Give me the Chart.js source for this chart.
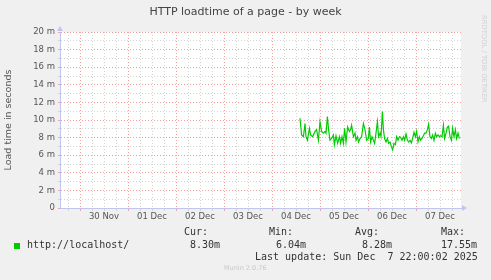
<!DOCTYPE html>
<html>
<head>
<meta charset="utf-8">
<script src="https://cdn.jsdelivr.net/npm/chart.js@4/dist/chart.umd.min.js"></script>
<style>
  html, body { margin: 0; padding: 0; background: #f0f0f0; }
  #wrap { position: relative; width: 491px; height: 280px; overflow: hidden; }
  #chartLoadtime { position: absolute; left: 0; top: 0; }
  .title { position: absolute; left: 0; top: 5px; width: 491px; text-align: center; font-family: "DejaVu Sans", sans-serif; font-size: 11px; line-height: 14px; color: #444; }
  .mono { position: absolute; white-space: pre; font-family: "DejaVu Sans Mono", monospace; font-size: 10px; line-height: 12px; color: #333; }
  .swatch { position: absolute; left: 14px; top: 243px; width: 6px; height: 6px; background: #00cc00; }
  .munin { position: absolute; left: 224px; top: 263px; font-family: "DejaVu Sans", sans-serif; font-size: 6.5px; line-height: 10px; color: #c8c8c8; }
  .rrd { position: absolute; left: 480px; top: 15px; writing-mode: vertical-rl; font-family: "DejaVu Sans", sans-serif; font-size: 6.8px; line-height: 8px; color: #d0d0d0; white-space: pre; }
</style>
</head>
<body>
<div id="wrap">
  <canvas id="chartLoadtime" width="491" height="280"></canvas>
  <div class="title">HTTP loadtime of a page - by week</div>
  <div class="rrd">RRDTOOL / TOBI OETIKER</div>
  <div class="mono" style="left:184px;top:226px">Cur:</div>
  <div class="mono" style="left:269px;top:226px">Min:</div>
  <div class="mono" style="left:355px;top:226px">Avg:</div>
  <div class="mono" style="left:441px;top:226px">Max:</div>
  <div class="swatch"></div>
  <div class="mono" style="left:27px;top:239px">http://localhost/</div>
  <div class="mono" style="left:190px;top:239px">8.30m</div>
  <div class="mono" style="left:276px;top:239px">6.04m</div>
  <div class="mono" style="left:362px;top:239px">8.28m</div>
  <div class="mono" style="left:441px;top:239px">17.55m</div>
  <div class="mono" style="left:255px;top:251px">Last update: Sun Dec  7 22:00:02 2025</div>
  <div class="munin">Munin 2.0.76</div>
</div>
<script>
// x values are hours counted from 30 Nov 00:00, y values are load time in m(illi)seconds
const hours = [
  110.0, 110.8, 111.7, 112.5, 113.0, 113.7, 114.7, 115.3, 116.3, 117.5,
  118.3, 119.2, 120.0, 120.8, 121.7, 122.5, 123.0, 123.7, 124.3, 125.0,
  125.8, 126.7, 127.2, 128.0, 128.8, 129.7, 130.3, 131.0, 131.7, 132.3,
  133.0, 133.8, 134.7, 135.3, 135.8, 136.7, 137.5, 138.0, 138.7, 139.3,
  140.0, 140.8, 141.7, 142.5, 143.3, 144.2, 144.7, 145.3, 146.0, 146.7,
  147.3, 148.0, 148.7, 149.3, 150.0, 150.5, 151.2, 151.7, 152.3, 153.0,
  153.7, 154.3, 155.0, 155.7, 156.3, 157.0, 157.7, 158.3, 159.0, 159.7,
  160.3, 161.0, 161.7, 162.3, 163.0, 163.7, 164.3, 165.0, 165.7, 166.3,
  167.0, 167.7, 168.3, 169.0, 169.7, 170.3, 171.0, 171.7, 172.3, 173.0,
  173.7, 174.3, 175.0, 175.7, 176.3, 177.0, 177.7, 178.3, 179.0, 179.7,
  180.3, 181.0, 181.7, 182.3, 183.0, 183.7, 184.3, 185.0, 185.7, 186.3,
  187.0, 187.7, 188.3, 189.0, 189.7
];
const loadTime = [
  10.2, 8.3, 8.1, 9.6, 8.1, 7.7, 9.05, 8.3, 8.1, 8.7,
  8.9, 7.7, 9.8, 8.7, 8.5, 8.7, 8.5, 10.4, 8.9, 7.7,
  7.9, 8.3, 7.2, 8.2, 7.35, 8.1, 7.35, 8.1, 7.35, 9.05,
  7.5, 9.2, 8.7, 8.9, 9.4, 8.1, 8.5, 7.7, 8.1, 7.5,
  7.9, 8.1, 9.6, 8.9, 7.7, 7.9, 9.2, 7.5, 8.1, 7.7,
  7.35, 8.5, 9.8, 8.1, 8.5, 8.1, 10.95, 8.9, 7.9, 7.5,
  7.9, 7.35, 7.5, 6.97, 6.6, 7.35, 7.2, 8.1, 7.7, 8.1,
  8.05, 7.7, 8.1, 7.7, 8.4, 7.7, 7.5, 7.7, 7.4, 7.9,
  8.6, 8.1, 8.7, 7.5, 8.1, 7.7, 7.9, 8.2, 8.5, 8.5,
  8.9, 9.5, 8.1, 7.9, 8.3, 7.7, 8.5, 8.1, 8.3, 8.1,
  8.2, 8.1, 9.4, 7.9, 8.5, 9.2, 9.3, 8.1, 7.7, 9.05,
  8.1, 8.9, 7.9, 8.5, 7.9
];
const dayLabels = ['30 Nov', '01 Dec', '02 Dec', '03 Dec', '04 Dec', '05 Dec', '06 Dec', '07 Dec'];
const yTickLabels = ['0', '', '2 m', '', '4 m', '', '6 m', '', '8 m', '', '10 m', '', '12 m', '', '14 m', '', '16 m', '', '18 m', '', '20 m'];

const xTicks = [];
for (let h = -6; h <= 186; h += 6) xTicks.push(h);

const majorGrid = '#f2a0a0';
const minorGrid = '#d4d4d4';
const axisColor = '#c4c4f0';

/** white plot area on grey page, plus the little arrows at the axis ends */
const munStyle = {
  id: 'munStyle',
  beforeDraw(chart) {
    const { ctx, chartArea: a } = chart;
    ctx.save();
    ctx.fillStyle = '#f0f0f0';
    ctx.fillRect(0, 0, chart.width, chart.height);
    ctx.fillStyle = '#ffffff';
    ctx.fillRect(a.left, a.top, a.right - a.left, a.bottom - a.top);
    ctx.restore();
  },
  afterDraw(chart) {
    const { ctx, chartArea: a } = chart;
    ctx.save();
    ctx.fillStyle = axisColor;
    ctx.beginPath();
    ctx.moveTo(a.left - 3, a.top - 1);
    ctx.lineTo(a.left + 3, a.top - 1);
    ctx.lineTo(a.left, a.top - 6);
    ctx.fill();
    ctx.beginPath();
    ctx.moveTo(a.right + 1, a.bottom - 3);
    ctx.lineTo(a.right + 1, a.bottom + 3);
    ctx.lineTo(a.right + 6, a.bottom);
    ctx.fill();
    ctx.restore();
  }
};

const _chartLoadtime = document.getElementById('chartLoadtime');

new Chart(_chartLoadtime, {
  type: 'line',
  data: {
    datasets: [{
      label: 'http://localhost/',
      data: hours.map((h, i) => ({ x: h, y: loadTime[i] })),
      borderColor: '#00cc00',
      borderWidth: 1.2,
      pointRadius: 0,
      tension: 0,
      fill: false
    }]
  },
  plugins: [munStyle],
  options: {
    responsive: false,
    animation: false,
    layout: { padding: { left: 0, top: 32, right: 30, bottom: 52 } },
    plugins: {
      legend: { display: false },
      tooltip: { enabled: false }
    },
    scales: {
      x: {
        type: 'linear',
        min: -10,
        max: 190.5,
        afterFit(scale) { scale.height = 20; },
        afterBuildTicks(scale) { scale.ticks = xTicks.map(v => ({ value: v })); },
        grid: {
          color: ctx => (ctx.tick && ctx.tick.value % 24 === 0) ? majorGrid : minorGrid,
          tickColor: ctx => (ctx.tick && ctx.tick.value % 24 === 0) ? majorGrid : minorGrid,
          tickLength: 3,
          lineWidth: 1
        },
        border: { color: axisColor, width: 1, dash: [1, 2] },
        ticks: {
          autoSkip: false,
          maxRotation: 0,
          padding: 1,
          color: '#555',
          font: { family: 'DejaVu Sans', size: 8.5 },
          callback: v => (v % 24 === 12) ? dayLabels[(v - 12) / 24] : ''
        }
      },
      y: {
        min: 0,
        max: 20,
        afterFit(scale) { scale.width = 60; },
        grid: {
          color: ctx => (ctx.tick && ctx.tick.value % 2 === 0) ? majorGrid : minorGrid,
          tickColor: ctx => (ctx.tick && ctx.tick.value % 2 === 0) ? majorGrid : minorGrid,
          tickLength: 2,
          lineWidth: 1
        },
        border: { color: axisColor, width: 1, dash: [1, 2] },
        title: {
          display: true,
          text: 'Load time in seconds',
          color: '#555',
          font: { family: 'DejaVu Sans', size: 9.5 },
          padding: { top: 3, bottom: 0 }
        },
        ticks: {
          stepSize: 1,
          autoSkip: false,
          padding: 3,
          color: '#555',
          font: { family: 'DejaVu Sans', size: 8.5 },
          callback: v => yTickLabels[v]
        }
      }
    }
  }
});
</script>
</body>
</html>
